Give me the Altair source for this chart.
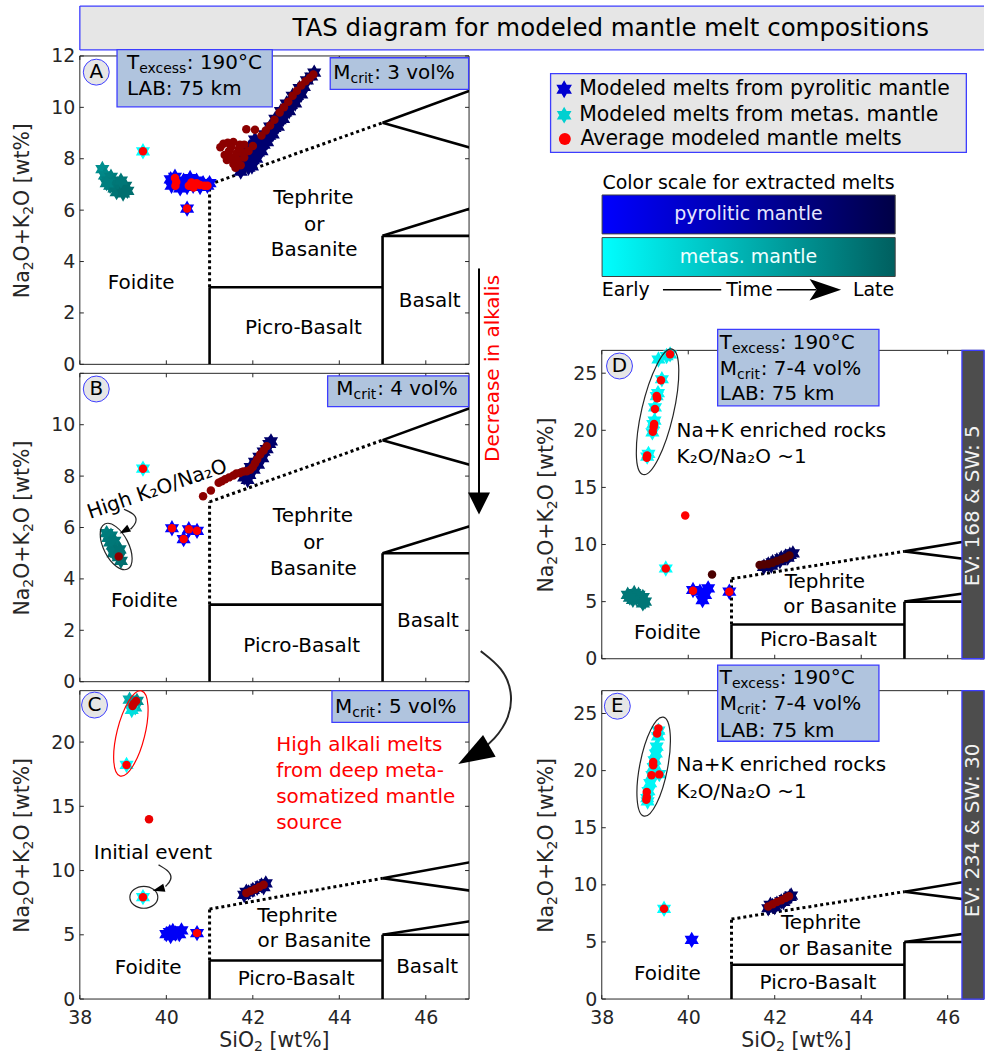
import altair as alt
import pandas as pd

FONT = "DejaVu Sans"
INK = "#262626"
EDGE = "#3d3dff"
INFO_FILL = "#b0c4de"
PALE = "#e6e6e6"
RED = "#ff0000"

# custom symbol outlines in the [-1, 1] unit square
STAR = ("M0,-1L0.289,-0.5L0.866,-0.5L0.577,0L0.866,0.5L0.289,0.5L0,1"
        "L-0.289,0.5L-0.866,0.5L-0.577,0L-0.866,-0.5L-0.289,-0.5Z")
HEAD = "M1,0L-1,-0.7L-1,0.7Z"
STEALTH = "M1,0L-1,-0.68L-0.55,0L-1,0.68Z"
DOWN = "M-1,-1L1,-1L0,1Z"

PYRO_RAMP = ["#0000ff", "#000046"]
META_RAMP = ["#00ffff", "#005f5f"]
AVG_RAMP = ["#ff0000", "#400000"]

TITLE = "TAS diagram for modeled mantle melt compositions"
X_TICKS = [38, 40, 42, 44, 46]
# axis titles written as (text, is_subscript) runs
Y_TITLE = [("Na", False), ("2", True), ("O+K", False), ("2", True), ("O [wt%]", False)]
X_TITLE = [("SiO", False), ("2", True), (" [wt%]", False)]

# DejaVu Sans advance widths (em) for the glyphs used in the axis titles
ADV = {"N": .748, "a": .613, "O": .787, "+": .838, "K": .656, " ": .318, "[": .390,
       "w": .818, "t": .392, "%": .950, "]": .390, "2": .636, "S": .635, "i": .278}

# TAS field boundaries: (SiO2 start, alkali start, SiO2 end, alkali end)
TAS_SOLID = [(41, 0, 41, 3), (41, 3, 45, 3), (45, 0, 45, 5), (45, 5, 52, 5),
             (45, 5, 49.4, 7.3), (45, 9.4, 48.4, 11.5), (45, 9.4, 49.4, 7.3)]
TAS_DOTTED = [(41, 3, 41, 7), (41, 7, 45, 9.4)]

# ---------------- panel A (Mcrit 3 vol%) : (SiO2, Na2O+K2O, stage 0=early..1=late)
A_PYRO = [
    (40.10, 7.20, 0.05), (40.12, 6.95, 0.05), (40.20, 7.30, 0.05), (40.25, 7.05, 0.05),
    (40.32, 6.85, 0.05), (40.40, 7.15, 0.05), (40.48, 6.90, 0.05), (40.55, 7.25, 0.05),
    (40.62, 6.95, 0.05), (40.70, 7.15, 0.05), (40.78, 6.90, 0.05), (40.85, 7.05, 0.05),
    (40.95, 6.95, 0.05), (41.00, 7.05, 0.05), (40.48, 6.06, 0.0),
    (41.72, 7.50, 0.75), (41.80, 7.75, 0.75), (41.90, 7.65, 0.75), (41.88, 8.05, 0.76),
    (42.00, 7.95, 0.76), (42.02, 8.35, 0.77), (42.12, 8.25, 0.77), (42.15, 8.65, 0.78),
    (42.25, 8.55, 0.78), (42.28, 8.95, 0.79), (42.38, 8.90, 0.79), (42.40, 9.25, 0.8),
    (42.50, 9.20, 0.8), (42.52, 9.55, 0.81), (42.62, 9.50, 0.81), (42.65, 9.85, 0.82),
    (42.75, 9.80, 0.82), (42.78, 10.15, 0.83), (42.88, 10.10, 0.83), (42.92, 10.45, 0.84),
    (43.02, 10.45, 0.84), (43.08, 10.75, 0.85), (43.18, 10.80, 0.85), (43.25, 11.05, 0.86),
    (43.35, 11.20, 0.86), (43.42, 11.35, 0.86), (41.98, 7.70, 0.75), (42.08, 8.00, 0.76),
    (42.20, 8.30, 0.77), (42.33, 8.65, 0.78), (42.46, 8.95, 0.79), (42.58, 9.25, 0.8),
    (42.70, 9.55, 0.81), (42.84, 9.85, 0.82), (42.98, 10.15, 0.83), (43.12, 10.50, 0.84),
    (41.78, 8.20, 0.75), (41.92, 8.45, 0.76), (42.05, 8.75, 0.77), (41.65, 7.85, 0.75),
]
A_META = [
    (39.46, 8.29, 0.0),
    (38.52, 7.60, 0.7), (38.58, 7.35, 0.75), (38.65, 7.15, 0.8), (38.72, 7.30, 0.8),
    (38.70, 6.95, 0.82), (38.78, 7.10, 0.82), (38.80, 6.85, 0.85), (38.88, 7.00, 0.85),
    (38.85, 6.70, 0.87), (38.95, 6.85, 0.87), (39.00, 6.65, 0.9), (39.05, 6.95, 0.9),
    (39.10, 6.75, 0.9), (38.62, 7.05, 0.8), (38.95, 7.15, 0.85),
]
A_AVG = [
    (39.46, 8.29, 0.0), (40.48, 6.06, 0.0), (40.20, 7.25, 0.0), (40.21, 6.95, 0.0),
    (40.23, 7.10, 0.0), (40.52, 6.95, 0.0), (40.58, 7.08, 0.0), (40.63, 6.88, 0.0),
    (40.70, 7.05, 0.0), (40.78, 6.98, 0.0), (40.88, 6.95, 0.0), (40.95, 6.95, 0.0),
    (41.25, 8.45, 0.6), (41.32, 8.58, 0.6), (41.42, 8.62, 0.6), (41.55, 8.65, 0.6),
    (41.70, 8.55, 0.6), (41.80, 8.55, 0.6), (42.00, 8.50, 0.6), (41.85, 9.15, 0.6),
    (42.05, 9.13, 0.6), (41.35, 8.15, 0.6), (41.45, 8.30, 0.6), (41.40, 7.95, 0.6),
    (41.50, 8.05, 0.6), (41.55, 7.80, 0.6), (41.62, 8.20, 0.6), (41.65, 7.95, 0.6),
    (41.72, 7.75, 0.6), (41.60, 7.65, 0.6), (41.75, 8.25, 0.6), (41.80, 8.05, 0.6),
    (41.68, 8.40, 0.6), (41.50, 8.45, 0.6), (41.90, 8.30, 0.6), (42.20, 8.90, 0.62),
    (42.30, 9.10, 0.62), (42.40, 9.29, 0.62), (42.50, 9.52, 0.62), (42.62, 9.80, 0.62),
    (42.72, 10.00, 0.62), (42.82, 10.22, 0.62), (42.92, 10.45, 0.62), (43.02, 10.65, 0.62),
    (43.12, 10.85, 0.62), (43.22, 11.02, 0.62), (43.32, 11.15, 0.62), (43.40, 11.28, 0.62),
]
A_FIELDS = [("Foidite", 39.42, 3.15), ("Tephrite", 43.40, 6.47), ("or", 43.42, 5.44),
            ("Basanite", 43.42, 4.45), ("Basalt", 46.09, 2.45), ("Picro-Basalt", 43.17, 1.41)]

# ---------------- panel B (Mcrit 4 vol%)
B_PYRO = [
    (40.13, 5.97, 0.0), (40.52, 5.93, 0.0), (40.71, 5.87, 0.0), (40.40, 5.55, 0.0),
    (41.80, 7.95, 0.8), (41.85, 8.15, 0.8), (41.92, 8.05, 0.8), (41.95, 8.35, 0.8),
    (42.02, 8.25, 0.8), (42.05, 8.55, 0.8), (42.12, 8.45, 0.8), (42.15, 8.75, 0.8),
    (42.22, 8.70, 0.8), (42.25, 8.95, 0.8), (42.32, 9.05, 0.8), (42.38, 9.25, 0.8),
    (42.42, 9.35, 0.8), (41.88, 7.85, 0.8),
]
B_META = [
    (39.46, 8.29, 0.0),
    (38.62, 5.78, 0.8), (38.66, 5.60, 0.82), (38.72, 5.68, 0.82), (38.70, 5.42, 0.84),
    (38.76, 5.30, 0.85), (38.80, 5.48, 0.85), (38.82, 5.12, 0.86), (38.86, 4.98, 0.87),
    (38.90, 4.85, 0.88), (38.95, 4.70, 0.9), (38.78, 5.00, 0.86), (38.92, 5.15, 0.88),
]
B_AVG = [
    (39.46, 8.29, 0.0), (40.13, 5.97, 0.0), (40.52, 5.93, 0.0), (40.71, 5.87, 0.0),
    (40.40, 5.55, 0.0), (38.90, 4.87, 0.6),
    (40.85, 7.22, 0.6), (41.03, 7.44, 0.6), (41.21, 7.74, 0.6), (41.28, 7.80, 0.6),
    (41.36, 7.88, 0.6), (41.45, 7.95, 0.6), (41.55, 8.02, 0.6), (41.62, 8.10, 0.6),
    (41.70, 8.12, 0.6), (41.78, 8.18, 0.6), (41.86, 8.19, 0.6), (41.94, 8.25, 0.6),
    (42.00, 8.35, 0.6), (42.05, 8.50, 0.6), (42.10, 8.65, 0.6), (42.17, 8.84, 0.6),
    (42.25, 9.00, 0.6), (42.32, 9.16, 0.6),
]
B_FIELDS = [("Foidite", 39.49, 3.13), ("Tephrite", 43.39, 6.45), ("or", 43.40, 5.38),
            ("Basanite", 43.40, 4.39), ("Basalt", 46.05, 2.36), ("Picro-Basalt", 43.13, 1.38)]

# ---------------- panel C (Mcrit 5 vol%)
C_PYRO = [
    (40.08, 5.21, 0.05), (40.35, 5.34, 0.05), (40.10, 4.90, 0.05), (40.21, 5.10, 0.05),
    (40.00, 5.05, 0.05), (40.30, 5.05, 0.05), (40.15, 5.30, 0.05), (40.71, 5.13, 0.0),
    (41.80, 8.10, 0.8), (41.90, 8.30, 0.8), (42.00, 8.50, 0.8), (42.10, 8.65, 0.8),
    (42.20, 8.85, 0.8), (42.30, 9.00, 0.8), (41.85, 8.35, 0.8), (42.25, 8.70, 0.8),
]
C_META = [
    (39.15, 23.3, 0.5), (39.28, 22.7, 0.4), (39.32, 23.2, 0.7), (39.22, 23.0, 0.6),
    (39.20, 22.5, 0.2), (39.08, 18.22, 0.0), (39.46, 7.93, 0.0),
]
C_AVG = [
    (39.25, 23.0, 0.3), (39.30, 23.2, 0.3), (39.22, 22.8, 0.3), (39.08, 18.22, 0.0),
    (39.60, 14.0, 0.1), (39.46, 7.93, 0.0), (40.71, 5.13, 0.0),
    (41.85, 8.25, 0.6), (41.95, 8.40, 0.6), (42.05, 8.55, 0.6), (42.15, 8.72, 0.6),
    (42.25, 8.90, 0.6),
]
C_FIELDS = [("Foidite", 39.58, 2.41), ("Tephrite", 43.03, 6.48), ("or Basanite", 43.42, 4.48),
            ("Basalt", 46.03, 2.49), ("Picro-Basalt", 43.00, 1.56)]
C_NOTE = [("High alkali melts", 42.54, 19.77), ("from deep meta-", 42.54, 17.78),
          ("somatized mantle", 42.54, 15.75), ("source", 42.54, 13.73)]

# ---------------- panel D (EV 168, SW 5)
D_PYRO = [
    (40.11, 6.02, 0.0), (40.33, 5.14, 0.0), (40.46, 6.16, 0.0), (40.27, 5.87, 0.0),
    (40.39, 5.58, 0.0), (40.95, 5.87, 0.0),
    (41.75, 8.05, 0.85), (41.85, 8.25, 0.85), (41.92, 8.15, 0.85), (41.95, 8.45, 0.85),
    (42.05, 8.60, 0.85), (42.12, 8.55, 0.85), (42.15, 8.80, 0.85), (42.25, 8.95, 0.85),
    (42.30, 8.85, 0.85), (42.35, 9.10, 0.85), (42.42, 9.22, 0.85),
]
D_META = [
    (39.31, 26.20, 0.1), (39.50, 26.50, 0.1), (39.58, 26.65, 0.15), (39.39, 24.47, 0.05),
    (39.27, 23.00, 0.05), (39.30, 23.25, 0.05), (39.23, 22.00, 0.05), (39.19, 20.55, 0.05),
    (39.22, 20.85, 0.05), (39.17, 19.82, 0.05), (39.08, 17.93, 0.0), (39.05, 17.70, 0.0),
    (39.48, 7.90, 0.0),
    (38.60, 5.60, 0.85), (38.68, 5.45, 0.85), (38.75, 5.75, 0.85), (38.80, 5.30, 0.85),
    (38.85, 5.60, 0.85), (38.90, 5.15, 0.85), (38.95, 5.40, 0.85), (39.00, 5.00, 0.85),
    (38.72, 5.15, 0.85), (38.95, 4.85, 0.85), (38.65, 5.35, 0.85),
]
D_AVG = [
    (39.58, 26.65, 0.0), (39.37, 24.39, 0.0), (39.27, 23.00, 0.0), (39.28, 22.80, 0.0),
    (39.23, 21.86, 0.0), (39.21, 20.55, 0.0), (39.20, 20.30, 0.0), (39.18, 19.88, 0.0),
    (39.05, 17.79, 0.0), (39.04, 17.59, 0.0), (39.93, 12.55, 0.0), (39.48, 7.90, 0.0),
    (40.11, 5.95, 0.0), (40.95, 5.87, 0.0), (40.55, 7.38, 0.95),
    (41.65, 8.20, 0.9), (41.75, 8.25, 0.9), (41.85, 8.30, 0.9), (41.95, 8.40, 0.9),
    (42.05, 8.55, 0.9), (42.15, 8.70, 0.9), (42.25, 8.85, 0.9), (42.34, 9.05, 0.9),
]
D_FIELDS = [("Foidite", 39.52, 2.24), ("Tephrite", 43.16, 6.74), ("or Basanite", 43.51, 4.50),
            ("Picro-Basalt", 43.01, 1.66)]

# ---------------- panel E (EV 234, SW 30)
E_PYRO = [
    (40.08, 5.18, 0.0),
    (41.85, 7.95, 0.85), (41.95, 8.15, 0.85), (42.05, 8.35, 0.85), (42.15, 8.55, 0.85),
    (42.25, 8.75, 0.85), (42.35, 8.95, 0.85), (42.38, 9.06, 0.85), (41.90, 8.25, 0.85),
    (42.20, 8.50, 0.85), (42.00, 8.05, 0.85),
]
E_META = [
    (39.31, 23.50, 0.1), (39.30, 23.00, 0.1), (39.27, 22.10, 0.1), (39.25, 21.50, 0.1),
    (39.22, 20.90, 0.1), (39.20, 20.30, 0.1), (39.17, 19.60, 0.1), (39.12, 18.90, 0.05),
    (39.08, 18.20, 0.05), (39.05, 17.60, 0.05), (39.06, 17.30, 0.05), (39.33, 19.70, 0.1),
    (39.44, 7.90, 0.0),
]
E_AVG = [
    (39.31, 23.70, 0.0), (39.28, 23.25, 0.0), (39.19, 20.75, 0.0), (39.19, 20.46, 0.0),
    (39.15, 19.59, 0.0), (39.33, 19.67, 0.0), (39.04, 18.12, 0.0), (39.04, 17.68, 0.0),
    (39.03, 17.45, 0.0), (39.44, 7.90, 0.0),
    (41.85, 8.10, 0.6), (41.95, 8.30, 0.6), (42.05, 8.50, 0.6), (42.15, 8.65, 0.6),
    (42.25, 8.85, 0.6), (42.33, 9.00, 0.6),
]
E_FIELDS = [("Foidite", 39.52, 2.19), ("Tephrite", 43.07, 6.63), ("or Basanite", 43.41, 4.39),
            ("Picro-Basalt", 43.00, 1.37)]

RICH_NOTE = ["Na+K enriched rocks", "K₂O/Na₂O ~1"]
LEGEND_LABELS = ["Modeled melts from pyrolitic mantle", "Modeled melts from metas. mantle",
                 "Average modeled mantle melts"]

ONE = alt.Data(values=[{"k": 0}])
MAIN_PT, SUB_PT = 20.5, 14


def ellipse_shape(ratio):
    return f"M0,-1A{ratio:.3f},1 0 1,1 0,1A{ratio:.3f},1 0 1,1 0,-1Z"


def y_axis(values):
    return alt.Axis(values=values, title="", domain=False, ticks=False, grid=False,
                    labelFont=FONT, labelFontSize=19, labelColor=INK, labelPadding=5,
                    labelOverlap=False)


X_AXIS = alt.Axis(values=X_TICKS, title="", domain=False, ticks=False, grid=False,
                  labelFont=FONT, labelFontSize=19, labelColor=INK, labelPadding=10,
                  labelFlush=False, labelOverlap=False)
X_AXIS_OFF = alt.Axis(values=X_TICKS, title="", labels=False, domain=False, ticks=False, grid=False)


def run_layers(runs, x, y, angle):
    """Axis title made of normal and subscript runs, centred on the given pixel point."""
    sizes = [SUB_PT if sub else MAIN_PT for _, sub in runs]
    widths = [sum(ADV[c] for c in s) * sz for (s, _), sz in zip(runs, sizes)]
    out, off = [], -sum(widths) / 2
    for (s, sub), sz, w in zip(runs, sizes, widths):
        lead = len(s) - len(s.lstrip(" "))
        props = dict(text=s.lstrip(" "), font=FONT, fontSize=sz, color=INK, align="left",
                     baseline="middle", dx=off + lead * ADV[" "] * sz, dy=6 if sub else 0)
        if angle:
            props["angle"] = angle
        out.append(alt.Chart(ONE).mark_text(**props).encode(x=alt.value(x), y=alt.value(y)))
        off += w
    return out


class Panel:
    def __init__(self, xmax, ymax, ylabels, show_x, y_range=None):
        self.xmax, self.ymax = xmax, ymax
        self.xs = alt.Scale(domain=[38, xmax], nice=False, zero=False)
        kw = dict(domain=[0, ymax], nice=False, zero=False)
        if y_range is not None:
            kw["range"] = y_range
        self.ys = alt.Scale(**kw)
        self.xaxis = X_AXIS if show_x else X_AXIS_OFF
        self.yaxis = y_axis(ylabels)
        self.layers = []

    def X(self, f="x"):
        return alt.X(f"{f}:Q", scale=self.xs, axis=self.xaxis)

    def Y(self, f="y"):
        return alt.Y(f"{f}:Q", scale=self.ys, axis=self.yaxis)

    def add(self, *layers):
        self.layers.extend(layers)

    def titles(self, ytitle_at, xtitle_at=None):
        self.add(*run_layers(Y_TITLE, ytitle_at[0], ytitle_at[1], 270))
        if xtitle_at:
            self.add(*run_layers(X_TITLE, xtitle_at[0], xtitle_at[1], None))

    def base(self, yticks, fields):
        fr = pd.DataFrame([{"x": 38, "x2": self.xmax, "y": 0, "y2": self.ymax}])
        self.add(alt.Chart(fr).mark_rect(fill="transparent", stroke=INK, strokeWidth=1).encode(
            x=self.X(), x2="x2:Q", y=self.Y(), y2="y2:Q"))
        tx = pd.DataFrame({"x": X_TICKS, "lo": 0, "hi": self.ymax})
        ty = pd.DataFrame({"y": yticks, "lo": 38, "hi": self.xmax})
        self.add(
            alt.Chart(tx).mark_rule(color=INK, strokeWidth=1, y2Offset=-4).encode(
                x=self.X(), y=self.Y("lo"), y2="lo:Q"),
            alt.Chart(tx).mark_rule(color=INK, strokeWidth=1, y2Offset=4).encode(
                x=self.X(), y=self.Y("hi"), y2="hi:Q"),
            alt.Chart(ty).mark_rule(color=INK, strokeWidth=1, x2Offset=4).encode(
                y=self.Y(), x=self.X("lo"), x2="lo:Q"),
            alt.Chart(ty).mark_rule(color=INK, strokeWidth=1, x2Offset=-4).encode(
                y=self.Y(), x=self.X("hi"), x2="hi:Q"),
        )
        cols = ["x", "y", "x2", "y2"]
        self.add(
            alt.Chart(pd.DataFrame(TAS_SOLID, columns=cols)).mark_rule(
                color="black", strokeWidth=2.6, clip=True).encode(
                x=self.X(), y=self.Y(), x2="x2:Q", y2="y2:Q"),
            alt.Chart(pd.DataFrame(TAS_DOTTED, columns=cols)).mark_rule(
                color="black", strokeWidth=3, strokeDash=[3, 3], clip=True).encode(
                x=self.X(), y=self.Y(), x2="x2:Q", y2="y2:Q"),
        )
        self.text(fields)

    def text(self, rows, size=20, color="black", align="center", angle=None):
        df = pd.DataFrame(rows, columns=["label", "x", "y"])
        props = dict(font=FONT, fontSize=size, color=color, align=align, baseline="middle")
        if angle is not None:
            props["angle"] = angle
        self.add(alt.Chart(df).mark_text(**props).encode(x=self.X(), y=self.Y(), text="label:N"))

    def melts(self, pyro, meta, avg):
        for rows, ramp in ((pyro, PYRO_RAMP), (meta, META_RAMP)):
            df = pd.DataFrame(rows, columns=["x", "y", "t"])
            self.add(alt.Chart(df).mark_point(shape=STAR, filled=True, size=270, opacity=1).encode(
                x=self.X(), y=self.Y(),
                color=alt.Color("t:Q", scale=alt.Scale(domain=[0, 1], range=ramp, interpolate="rgb"),
                                legend=None)))
        df = pd.DataFrame(avg, columns=["x", "y", "t"])
        self.add(alt.Chart(df).mark_circle(size=72, opacity=1).encode(
            x=self.X(), y=self.Y(),
            color=alt.Color("t:Q", scale=alt.Scale(domain=[0, 1], range=AVG_RAMP, interpolate="rgb"),
                            legend=None)))

    def box(self, x, x2, y, y2, fill=INFO_FILL):
        df = pd.DataFrame([{"x": x, "x2": x2, "y": y, "y2": y2}])
        self.add(alt.Chart(df).mark_rect(fill=fill, stroke=EDGE, strokeWidth=1.3).encode(
            x=self.X(), x2="x2:Q", y=self.Y(), y2="y2:Q"))

    def sub_text(self, x, y, main, sub, rest, dx_sub, dx_rest):
        base = alt.Chart(pd.DataFrame([{"x": x, "y": y}])).encode(x=self.X(), y=self.Y())
        common = dict(font=FONT, color="black", align="left", baseline="middle")
        self.add(
            base.mark_text(text=main, fontSize=20, **common),
            base.mark_text(text=sub, fontSize=14, dx=dx_sub, dy=6, **common),
            base.mark_text(text=rest, fontSize=20, dx=dx_rest, **common),
        )

    def letter(self, ch, x, y):
        df = pd.DataFrame([{"label": ch, "x": x, "y": y}])
        self.add(
            alt.Chart(df).mark_circle(size=676, fill=PALE, stroke=EDGE, strokeWidth=1, opacity=1).encode(
                x=self.X(), y=self.Y()),
            alt.Chart(df).mark_text(font=FONT, fontSize=20, color="black", baseline="middle").encode(
                x=self.X(), y=self.Y(), text="label:N"),
        )

    def ellipse(self, x, y, major, minor, angle, color=INK):
        df = pd.DataFrame([{"x": x, "y": y}])
        self.add(alt.Chart(df).mark_point(
            shape=ellipse_shape(minor / major), size=(2 * major) ** 2, angle=angle, filled=False,
            color=color, strokeWidth=1.2, opacity=1).encode(x=self.X(), y=self.Y()))

    def curve(self, pts, width=1.3):
        df = pd.DataFrame([{"i": i, "x": a, "y": b} for i, (a, b) in enumerate(pts)])
        self.add(alt.Chart(df).mark_line(interpolate="basis", color=INK, strokeWidth=width).encode(
            x=self.X(), y=self.Y(), order="i:Q"))

    def head(self, x, y, angle, length, shape=HEAD):
        df = pd.DataFrame([{"x": x, "y": y}])
        self.add(alt.Chart(df).mark_point(shape=shape, filled=True, size=length ** 2, angle=angle,
                                          color="black", opacity=1).encode(x=self.X(), y=self.Y()))

    def info_box(self, box, left, rows, mcrit=None):
        self.box(*box)
        self.sub_text(left, rows[0], "T", "excess", ": 190°C", 12.2, 60)
        if mcrit:
            self.sub_text(left, rows[1], "M", "crit", mcrit, 17.3, 41)
        self.text([("LAB: 75 km", left, rows[-1])], align="left")

    def chart(self, width, height):
        return alt.layer(*self.layers).resolve_scale(color="independent").properties(
            width=width, height=height)


# ---------------- panel A
pa = Panel(47, 12, list(range(0, 13, 2)), False)
# banner and page anchor, placed in pixels relative to this panel
pa.add(
    alt.Chart(ONE).mark_rule(color="transparent").encode(
        x=alt.value(-79), x2=alt.value(-78), y=alt.value(-54)),
    alt.Chart(ONE).mark_rect(fill=PALE).encode(
        x=alt.value(0), x2=alt.value(906), y=alt.value(-50), y2=alt.value(-6)),
    alt.Chart(ONE).mark_rule(color=EDGE, strokeWidth=1.3).encode(
        x=alt.value(0), x2=alt.value(906), y=alt.value(-50)),
    alt.Chart(ONE).mark_rule(color=EDGE, strokeWidth=1.3).encode(
        x=alt.value(0), x2=alt.value(906), y=alt.value(-6)),
    alt.Chart(ONE).mark_rule(color=EDGE, strokeWidth=1.3).encode(
        x=alt.value(0), y=alt.value(-50), y2=alt.value(-6)),
    alt.Chart(ONE).mark_text(text=TITLE, font=FONT, fontSize=24.5, color="black",
                             align="center", baseline="middle").encode(
        x=alt.value(532), y=alt.value(-27)),
)
pa.base(list(range(0, 13, 2)), A_FIELDS)
pa.titles((-57, 155))
pa.melts(A_PYRO, A_META, A_AVG)
pa.info_box((38.86, 42.45, 10.02, 12.25), 39.09, (11.71, 10.70))
pa.box(43.79, 46.99, 10.70, 11.93)
pa.sub_text(43.86, 11.35, "M", "crit", ": 3 vol%", 17.3, 41)
pa.letter("A", 38.38, 11.37)

# ---------------- panel B
pb = Panel(47, 12, list(range(0, 11, 2)), False)
pb.base(list(range(0, 13, 2)), B_FIELDS)
pb.titles((-57, 155))
pb.melts(B_PYRO, B_META, B_AVG)
pb.ellipse(38.84, 5.26, 25.3, 12.5, 333)
pb.text([("High K₂O/Na₂O", 39.79, 7.48)], color="black", angle=341)
pb.curve([(39.02, 6.71), (39.29, 6.51), (39.32, 6.19), (39.17, 5.93)])
pb.head(39.03, 5.87, 150, 11)
pb.box(43.73, 46.99, 10.70, 11.90)
pb.sub_text(43.93, 11.39, "M", "crit", ": 4 vol%", 17.3, 41)
pb.letter("B", 38.38, 11.39)
# decrease-in-alkalis arrow between panels
pb.add(alt.Chart(pd.DataFrame([{"x": 47.23, "y": 16.08, "y2": 7.3}])).mark_rule(
    color="black", strokeWidth=2).encode(x=pb.X(), y=pb.Y(), y2="y2:Q"))
pb.head(47.23, 6.93, 0, 22, shape=DOWN)
pb.text([("Decrease in alkalis", 47.55, 12.19)], color=RED, angle=270)

# ---------------- panel C
pc = Panel(47, 24, [0, 5, 10, 15, 20], True)
pc.base([0, 5, 10, 15, 20], C_FIELDS)
pc.titles((-57, 155), (195, 351))
pc.melts(C_PYRO, C_META, C_AVG)
pc.ellipse(39.18, 20.67, 44, 14, 14, color=RED)
pc.ellipse(39.48, 7.92, 14, 11, 90)
pc.text([("Initial event", 39.69, 11.4)])
pc.curve([(39.82, 10.44), (40.09, 9.92), (40.13, 9.28), (39.98, 8.76)])
pc.head(39.82, 8.54, 165, 12)
pc.text(C_NOTE, color=RED, align="left")
pc.curve([(47.27, 27.08), (47.78, 25.76), (48.01, 23.9), (47.94, 21.88), (47.59, 20.17),
          (47.2, 19.16)], width=2)
pc.head(47.11, 19.0, 150, 36)
pc.box(43.83, 46.99, 21.54, 24.0)
pc.sub_text(43.90, 22.75, "M", "crit", ": 5 vol%", 17.3, 41)
pc.letter("C", 38.34, 22.88)

# ---------------- panel D (its data area sits 23 px above its grid row)
pd_ = Panel(46.84, 27, [0, 5, 10, 15, 20, 25], False, y_range=[286, -23])
pd_.base([0, 5, 10, 15, 20, 25], D_FIELDS)
pd_.titles((-55.3, 132))
pd_.box(46.33, 46.84, 0, 27, fill="#4d4d4d")
pd_.text([("EV: 168 & SW: 5", 46.59, 13.4)], color="#f2f2f2", angle=270)
pd_.melts(D_PYRO, D_META, D_AVG)
pd_.ellipse(39.29, 21.62, 64.5, 16, 13)
pd_.text([(RICH_NOTE[0], 39.73, 19.97), (RICH_NOTE[1], 39.73, 17.64)], align="left")
pd_.info_box((40.68, 44.41, 22.14, 28.83), 40.73, (27.66, 25.40, 23.16), ": 7-4 vol%")
pd_.letter("D", 38.41, 25.63)

# ---------------- panel E
pe = Panel(46.84, 27, [0, 5, 10, 15, 20, 25], True)
pe.base([0, 5, 10, 15, 20, 25], E_FIELDS)
pe.titles((-55.3, 155), (195, 351))
pe.box(46.33, 46.84, 0, 27, fill="#4d4d4d")
pe.text([("EV: 234 & SW: 30", 46.59, 14.76)], color="#f2f2f2", angle=270)
pe.melts(E_PYRO, E_META, E_AVG)
pe.ellipse(39.2, 20.35, 50.5, 14, 11)
pe.text([(RICH_NOTE[0], 39.73, 20.46), (RICH_NOTE[1], 39.73, 18.12)], align="left")
pe.info_box((40.68, 44.41, 22.57, 29.24), 40.73, (28.07, 25.82, 23.47), ": 7-4 vol%")
pe.letter("E", 38.36, 25.64)


# ---------------- legend and colour-scale key (pixel layout)
def grad(ramp):
    return alt.Gradient(gradient="linear", x1=0, x2=1, y1=0, y2=0,
                        stops=[alt.GradientStop(color=ramp[0], offset=0),
                               alt.GradientStop(color=ramp[1], offset=1)])


def ptxt(s, x, y, size=20.5, color="black", align="left"):
    return alt.Chart(ONE).mark_text(text=s, font=FONT, fontSize=size, color=color, align=align,
                                    baseline="middle").encode(x=alt.value(x), y=alt.value(y))


key_layers = [
    alt.Chart(ONE).mark_rect(fill=PALE, stroke=EDGE, strokeWidth=1.3).encode(
        x=alt.value(-51.3), x2=alt.value(365.3), y=alt.value(17.7), y2=alt.value(96.7)),
    alt.Chart(ONE).mark_point(shape=STAR, filled=True, size=324, color="#0000d0", opacity=1).encode(
        x=alt.value(-37.7), y=alt.value(33.3)),
    alt.Chart(ONE).mark_point(shape=STAR, filled=True, size=289, color="#00d0d0", opacity=1).encode(
        x=alt.value(-37.7), y=alt.value(59.3)),
    alt.Chart(ONE).mark_circle(size=144, color=RED, opacity=1).encode(
        x=alt.value(-37), y=alt.value(83.3)),
    ptxt(LEGEND_LABELS[0], -22.7, 33.3),
    ptxt(LEGEND_LABELS[1], -22.7, 59.3),
    ptxt(LEGEND_LABELS[2], -21.3, 83.3),
    ptxt("Color scale for extracted melts", 147, 127.7, size=19, align="center"),
    alt.Chart(ONE).mark_rect(fill=grad(PYRO_RAMP), stroke="#404040", strokeWidth=1).encode(
        x=alt.value(0.3), x2=alt.value(294), y=alt.value(139.3), y2=alt.value(178.3)),
    alt.Chart(ONE).mark_rect(fill=grad(META_RAMP), stroke="#404040", strokeWidth=1).encode(
        x=alt.value(0.3), x2=alt.value(294), y=alt.value(182), y2=alt.value(221)),
    ptxt("pyrolitic mantle", 147, 158.8, size=19, color="#e6e6ff", align="center"),
    ptxt("metas. mantle", 147, 201.5, size=19, color="#f0ffff", align="center"),
    ptxt("Early", 0, 234.3, size=19),
    ptxt("Time", 148, 234.3, size=19, align="center"),
    ptxt("Late", 293, 234.3, size=19, align="right"),
    alt.Chart(ONE).mark_rule(color="black", strokeWidth=1.5).encode(
        x=alt.value(61.3), x2=alt.value(119.7), y=alt.value(234.3)),
    alt.Chart(ONE).mark_rule(color="black", strokeWidth=1.5).encode(
        x=alt.value(175.3), x2=alt.value(215), y=alt.value(234.3)),
    alt.Chart(ONE).mark_point(shape=STEALTH, filled=True, size=1000, color="black", opacity=1).encode(
        x=alt.value(224), y=alt.value(234.3)),
]
key = alt.layer(*key_layers).properties(width=383, height=286)

chart = alt.concat(
    pa.chart(390, 309), key,
    pb.chart(390, 309), pd_.chart(383, 309),
    pc.chart(390, 309), pe.chart(383, 309),
    columns=2, spacing=alt.RowColnumber(row=9, column=133), align="none", bounds="flush",
).resolve_scale(x="independent", y="independent", color="independent").properties(
    padding=0, background="white"
).configure_view(stroke="transparent")

chart.save("out.html", embed_options={"renderer": "svg", "actions": False})
